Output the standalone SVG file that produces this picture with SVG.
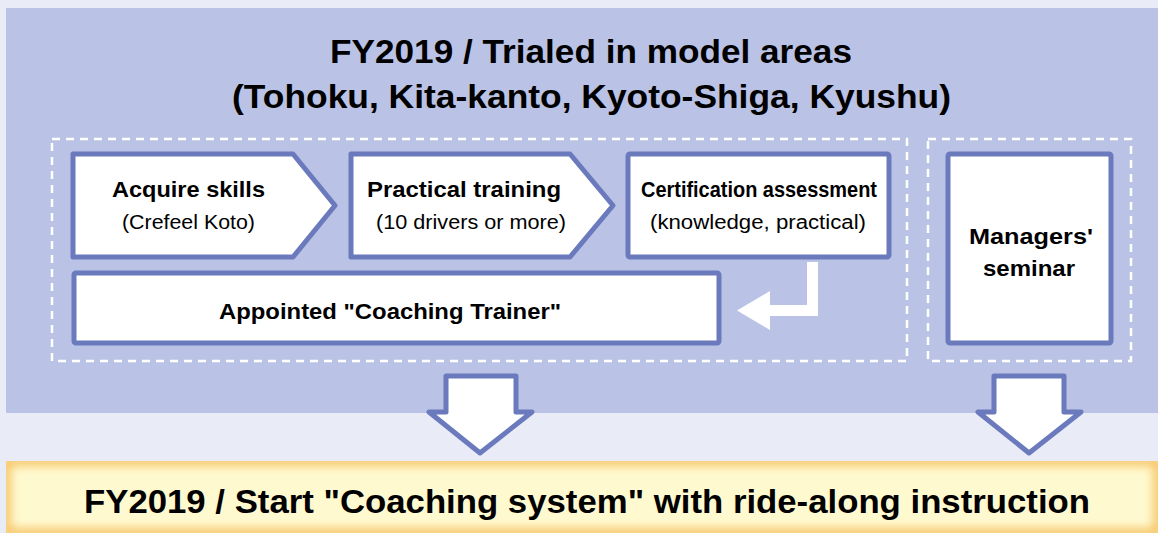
<svg xmlns="http://www.w3.org/2000/svg" width="1158" height="533" viewBox="0 0 1158 533">
<style>
.node{fill:#fff;stroke:#6A7ABC;stroke-width:5;stroke-linejoin:round}
.dash{fill:none;stroke:#fff;stroke-width:2.5;stroke-dasharray:8 6}
text{font-family:"Liberation Sans",Arial,sans-serif;fill:#000;text-anchor:middle}
.t{font-size:33px;font-weight:bold}
.h{font-size:22px;font-weight:bold}
.s{font-size:19.5px}
</style>
<defs>
<filter id="glow" x="-5%" y="-50%" width="110%" height="200%"><feGaussianBlur stdDeviation="5"/></filter>
<clipPath id="barclip"><rect x="6" y="461" width="1152" height="72"/></clipPath>
</defs>
<rect width="1158" height="533" fill="#E9EBF7"/>
<rect x="6" y="8" width="1152" height="405" fill="#BAC3E5"/>
<g id="title">
<text class="t" x="591" y="63" textLength="522" lengthAdjust="spacingAndGlyphs">FY2019 / Trialed in model areas</text>
<text class="t" x="591.5" y="108" textLength="719" lengthAdjust="spacingAndGlyphs">(Tohoku, Kita-kanto, Kyoto-Shiga, Kyushu)</text>
</g>
<rect class="dash" x="52" y="139" width="855" height="222"/>
<rect class="dash" x="928" y="139" width="203" height="222"/>
<g id="n1">
<path class="node" d="M73,154 H293 L335,205.5 L293,257 H73 Z"/>
<text class="h" x="188.5" y="197" textLength="153" lengthAdjust="spacingAndGlyphs">Acquire skills</text>
<text class="s" x="188.5" y="229" textLength="133" lengthAdjust="spacingAndGlyphs">(Crefeel Koto)</text>
</g>
<g id="n2">
<path class="node" d="M351,154 H570 L613,205.5 L570,257 H351 Z"/>
<text class="h" x="464" y="197" textLength="194" lengthAdjust="spacingAndGlyphs">Practical training</text>
<text class="s" x="471" y="229" textLength="190" lengthAdjust="spacingAndGlyphs">(10 drivers or more)</text>
</g>
<g id="n3">
<rect class="node" x="628" y="154" width="261" height="103" rx="2"/>
<text class="h" x="759" y="197" textLength="236" lengthAdjust="spacingAndGlyphs">Certification assessment</text>
<text class="s" x="758" y="229" textLength="216" lengthAdjust="spacingAndGlyphs">(knowledge, practical)</text>
</g>
<g id="n4">
<rect class="node" x="948" y="154" width="163" height="189" rx="2"/>
<text class="h" x="1031" y="244" textLength="124" lengthAdjust="spacingAndGlyphs">Managers'</text>
<text class="h" x="1029" y="276" textLength="92" lengthAdjust="spacingAndGlyphs">seminar</text>
</g>
<g id="n5">
<rect class="node" x="74" y="273" width="645" height="70" rx="2"/>
<text class="h" x="390" y="319" textLength="342" lengthAdjust="spacingAndGlyphs">Appointed "Coaching Trainer"</text>
</g>
<g id="connectors">
<path d="M807,262 H818 V316 H770 V330 L737,310.5 L770,291 V305 H807 Z" fill="#fff"/>
<path class="node" d="M446,376 H516 V412 H532 L480,453 L429,412 H446 Z"/>
<path class="node" d="M994,376 H1064 V412 H1081 L1029,453 L978,412 H994 Z"/>
</g>
<g id="result">
<rect x="6" y="461" width="1152" height="72" fill="#FFF9D0"/>
<g clip-path="url(#barclip)">
<rect x="6" y="461" width="1152" height="72" fill="none" stroke="#F6C66A" stroke-width="10" filter="url(#glow)"/>
</g>
<text class="t" x="587" y="513" textLength="1006" lengthAdjust="spacingAndGlyphs">FY2019 / Start "Coaching system" with ride-along instruction</text>
</g>
</svg>
